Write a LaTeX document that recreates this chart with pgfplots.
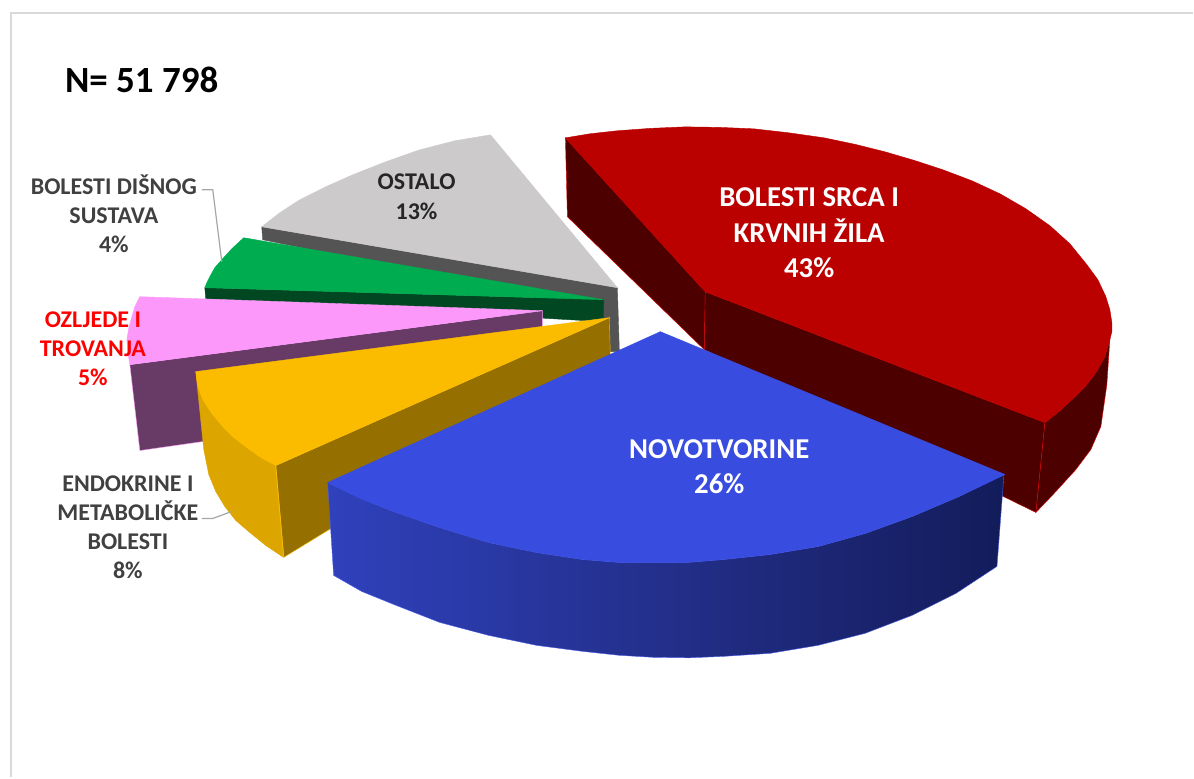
\documentclass[border=0pt]{standalone}
\usepackage{fontspec}
\setmainfont{Carlito}
\usepackage{pgfplots}
\pgfplotsset{compat=1.18}

\definecolor{redtop}{HTML}{BB0000}
\definecolor{redside}{HTML}{4D0000}
\definecolor{redline}{HTML}{E00000}
\definecolor{bluetop}{HTML}{384CE0}
\definecolor{blueleft}{HTML}{2F41BC}
\definecolor{bluemid}{HTML}{232F8A}
\definecolor{blueright}{HTML}{131C5A}
\definecolor{blueline}{HTML}{4A5EEA}
\definecolor{yellowtop}{HTML}{FBBC00}
\definecolor{yellowcut}{HTML}{957000}
\definecolor{yellowside}{HTML}{DCA500}
\definecolor{pinktop}{HTML}{FD98FB}
\definecolor{pinkside}{HTML}{673B66}
\definecolor{greentop}{HTML}{00AC50}
\definecolor{greenside}{HTML}{004722}
\definecolor{graytop}{HTML}{CCCACB}
\definecolor{grayside}{HTML}{545454}
\definecolor{framegray}{HTML}{D9D9D9}
\definecolor{leader}{HTML}{A6A6A6}
\definecolor{labelgray}{HTML}{404040}

\newcommand{\bigfont}{\fontsize{28.8bp}{35.5bp}\selectfont\bfseries}
\newcommand{\smallfont}{\fontsize{24bp}{29.2bp}\selectfont\bfseries}

\begin{document}
\begin{tikzpicture}
\begin{axis}[
  scale only axis,
  width=1194bp, height=778bp,
  xmin=0, xmax=1194, ymin=0, ymax=778,
  y dir=reverse,
  hide axis,
  clip=false,
  no markers,
]
% keep the whole page
\path (axis cs:0,0) (axis cs:1194,778);

% chart frame
\addplot[framegray, line width=2.5bp] coordinates {(11,778) (11,13) (1194,13)};

% ostalo
\addplot[fill=grayside, draw=grayside] coordinates {(262,227) (618,288) (620,352) (604,352) (604,310) (263,240)} --cycle;
\addplot[fill=graytop, draw=graytop] coordinates {(491,135) (618,288) (262,227) (280,213) (300,200) (326,187) (353,175) (386,162) (420,150) (455,141)} --cycle;

% bolesti disnog sustava
\addplot[fill=greenside, draw=greenside] coordinates {(205,288) (604,300) (604,322) (206,299)} --cycle;
\addplot[fill=greentop, draw=greentop] coordinates {(244,238) (604,300) (205,288) (207,283) (210,277) (215,268) (222,260) (232,249)} --cycle;

% ozljede i trovanja
\addplot[fill=pinkside, draw=pinktop] coordinates {(130,365) (543,311) (543,327) (400,395) (203,442) (140,451)} --cycle;
\addplot[fill=pinktop, draw=pinktop] coordinates {(140,297) (543,311) (130,365) (128,353) (127,340) (129,328) (132,317) (135,307)} --cycle;

% endokrine i metabolicke bolesti
\addplot[fill=yellowcut, draw=yellowtop] coordinates {(276,466) (610,318) (611,358) (284,558)} --cycle;
\addplot[fill=yellowside, draw=yellowside] coordinates {(196,372) (276,466) (284,558) (266,546) (250,533) (236,521) (225,507) (216,492) (209,475) (204,450)} --cycle;
\addplot[yellowtop, line width=0.8bp] coordinates {(276,466) (284,558)};
\addplot[fill=yellowtop, draw=yellowtop] coordinates {(196,372) (610,318) (276,466) (261,458) (247,448) (234,438) (223,427) (212,414) (203,400) (198,387)} --cycle;

% bolesti srca i krvnih zila
\addplot[fill=redside, draw=redline] coordinates {(566,138) (706,292) (705,350) (568,217)} --cycle;
\addplot[fill=redside, draw=redline] coordinates {(706,292) (1046,423) (1037,513) (705,350)} --cycle;
\addplot[fill=redside, draw=redline] coordinates {(1046,423) (1061,411) (1075,398) (1087,386) (1097,373) (1106,357) (1111,340) (1108,385) (1102,427) (1092,450) (1077,470) (1057,492) (1037,513)} --cycle;
\addplot[fill=redtop, draw=redtop] coordinates {(566,138) (590,134) (617,131) (651,128.5) (686,127) (720,127.5) (755,129) (790,133) (825,138) (856,144.5) (886,152) (915,160.5) (944,170) (973,181) (1001,194) (1027,209) (1051,226) (1071,244) (1088,265) (1099,280) (1107,297) (1111,310) (1113,323) (1113,332) (1111,340) (1106,357) (1097,373) (1087,386) (1075,398) (1061,411) (1046,423) (706,292)} --cycle;

% novotvorine
\addplot[left color=blueleft, right color=blueright, middle color=bluemid, draw=blueline] coordinates {(328,483) (361,499) (394,512) (440,528) (489,543) (537,553) (583,560) (620,563) (654,563) (688,563) (725,560) (771,555) (819,547) (866,534) (913,517) (960,497) (1005,475) (998,567) (957,594) (913,616) (866,634) (819,646) (771,654) (725,657) (690,658.5) (654,658) (620,656) (583,652) (537,646) (489,636) (440,623) (394,605) (362,592) (334,576)} --cycle;
\addplot[fill=bluetop, draw=bluetop] coordinates {(661,332) (1006,475) (960,497) (913,517) (866,534) (819,547) (771,555) (725,560) (688,563) (654,563) (620,563) (583,560) (537,553) (489,543) (440,528) (394,512) (361,499) (328,483)} --cycle;

% leader lines
\addplot[leader, line width=1.2bp] coordinates {(202,190) (213,190) (222,262)};
\addplot[leader, line width=1.2bp] coordinates {(202,519) (213,519) (232,512)};

% texts
\node[anchor=west, inner sep=0pt, font=\fontsize{37bp}{42bp}\selectfont\bfseries] at (axis cs:65,80) {N= 51 798};
\node[white, align=center, font=\bigfont] at (axis cs:810,233) {BOLESTI SRCA I\\KRVNIH ŽILA\\43\%};
\node[white, align=center, font=\bigfont] at (axis cs:720,467) {NOVOTVORINE\\26\%};
\node[black!85, align=center, font=\smallfont] at (axis cs:417,197) {OSTALO\\13\%};
\node[labelgray, align=center, font=\smallfont] at (axis cs:114,214) {BOLESTI DIŠNOG\\SUSTAVA\\4\%};
\node[red, align=center, font=\smallfont] at (axis cs:93,349) {OZLJEDE I\\TROVANJA\\5\%};
\node[labelgray, align=center, font=\smallfont] at (axis cs:128,528) {ENDOKRINE I\\METABOLIČKE\\BOLESTI\\8\%};
\end{axis}
\end{tikzpicture}
\end{document}
